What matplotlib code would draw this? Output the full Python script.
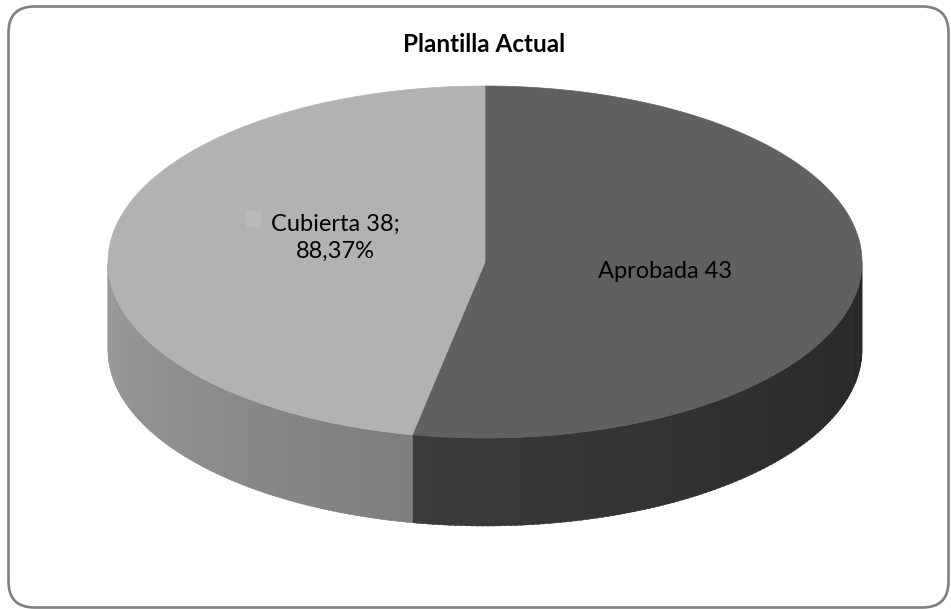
import numpy as np
import matplotlib
matplotlib.use("Agg")
import matplotlib.pyplot as plt
from matplotlib.patches import Polygon, FancyBboxPatch, Rectangle

# Chart data
categories = ["Aprobada", "Cubierta"]
values = [43, 38]
labels = ["Aprobada 43", "Cubierta 38;\n88,37%"]
title = "Plantilla Actual"

top_colors = ["#606060", "#b2b2b2"]
# side shading: (colour at start angle, colour at end angle) of the visible rim
side_colors = [("#262626", "#3b3b3b"), ("#7e7e7e", "#9c9c9c")]

W, H = 951, 609
fig = plt.figure(figsize=(W / 100, H / 100), dpi=100)
ax = fig.add_axes([0, 0, 1, 1])
ax.set_xlim(0, W)
ax.set_ylim(H, 0)
ax.axis("off")

# rounded outer frame
frame = FancyBboxPatch((8.5, 6.5), 940, 601, boxstyle="round,pad=0,rounding_size=26",
                       facecolor="white", edgecolor="#808080", linewidth=1.9, zorder=0)
ax.add_patch(frame)

# pie geometry (pixel space)
cx, cy = 485, 262
a, b = 377, 176
depth = 88


def top_pt(t):
    t = np.radians(t)
    return cx + a * np.sin(t), cy - b * np.cos(t)


def hexrgb(h):
    return np.array(matplotlib.colors.to_rgb(h))


total = float(sum(values))
bounds = np.concatenate([[0], np.cumsum(values) / total * 360])

# sides (front half only: 90..270 degrees)
for i in range(len(values)):
    t0, t1 = max(bounds[i], 90), min(bounds[i + 1], 270)
    if t1 <= t0:
        continue
    c0, c1 = hexrgb(side_colors[i][0]), hexrgb(side_colors[i][1])
    n = 120
    ts = np.linspace(t0, t1, n + 1)
    for k in range(n):
        ta, tb = ts[k], ts[k + 1] + 0.3 * (k < n - 1)
        xa, ya = top_pt(ta)
        xb, yb = top_pt(min(tb, t1))
        f = (k + 0.5) / n
        col = c0 + (c1 - c0) * f
        ax.add_patch(Polygon([(xa, ya), (xb, yb), (xb, yb + depth), (xa, ya + depth)],
                             closed=True, facecolor=col, edgecolor=col, linewidth=0.3, zorder=1))

# tops
for i in range(len(values)):
    ts = np.linspace(bounds[i], bounds[i + 1], 300)
    pts = [(cx, cy)] + [top_pt(t) for t in ts]
    ax.add_patch(Polygon(pts, closed=True, facecolor=top_colors[i],
                         edgecolor=top_colors[i], linewidth=0.5, zorder=2))

font = "Lato"
ax.text(484, 44, title, ha="center", va="center", fontsize=17.5,
        fontweight="bold", family=font, color="black", zorder=5)
ax.text(665, 272, labels[0], ha="center", va="center", fontsize=17,
        family=font, color="black", zorder=5)
ax.text(335, 238, labels[1], ha="center", va="center", fontsize=17,
        family=font, color="black", linespacing=1.35, zorder=5)
# legend key beside the data label
ax.add_patch(Rectangle((246, 211), 15, 16, facecolor="#b9b9b9", edgecolor="none", zorder=5))

fig.savefig("out.png", dpi=100)
